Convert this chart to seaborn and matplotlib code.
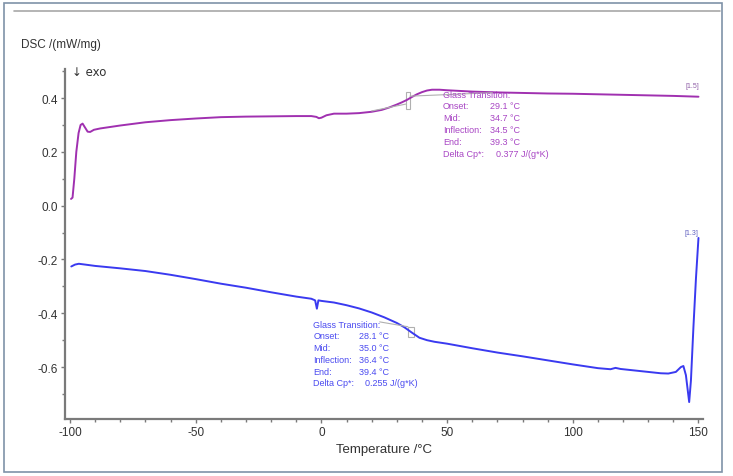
import numpy as np
import pandas as pd
import matplotlib
matplotlib.use("Agg")
import matplotlib.pyplot as plt
import seaborn as sns
from matplotlib.patches import Rectangle

# ---------------- data ----------------
temp_upper = [-99.6, -99.0, -98.3, -97.5, -96.6, -95.8, -95.0, -94.0, -93.0, -92.0,
              -90.5, -88, -80, -70, -60, -50, -40, -30, -20, -10, -4, -2, -1, 0, 2,
              5, 10, 15, 20, 24, 27, 30, 32, 34, 36, 38, 40, 42, 44, 47, 50, 60, 70,
              80, 90, 100, 110, 120, 130, 140, 150]
dsc_upper = [0.025, 0.03, 0.10, 0.20, 0.27, 0.300, 0.305, 0.29, 0.275, 0.274,
             0.282, 0.287, 0.298, 0.310, 0.318, 0.324, 0.329, 0.331, 0.332, 0.333, 0.333,
             0.330, 0.325, 0.327, 0.336, 0.342, 0.342, 0.344, 0.349, 0.356, 0.365, 0.376,
             0.384, 0.393, 0.404, 0.414, 0.422, 0.428, 0.431, 0.431, 0.429, 0.424, 0.421,
             0.419, 0.417, 0.416, 0.414, 0.412, 0.410, 0.408, 0.405]

temp_lower = [-99.5, -98, -96.5, -94, -90, -80, -70, -60, -50, -40, -30, -20, -10,
              -4, -2.5, -1.8, -1.2, 0, 5, 10, 15, 20, 25, 30, 33, 36, 39, 42, 45, 50,
              60, 70, 80, 90, 100, 110, 115, 117, 119, 125, 130, 135, 138, 141, 143,
              144, 145, 146.3, 147, 148, 149, 150]
dsc_lower = [-0.226, -0.219, -0.216, -0.219, -0.224, -0.233, -0.243, -0.257, -0.273,
             -0.290, -0.305, -0.322, -0.338, -0.346, -0.352, -0.383, -0.352, -0.354,
             -0.360, -0.370, -0.382, -0.397, -0.415, -0.436, -0.452, -0.472, -0.491,
             -0.500, -0.506, -0.513, -0.530, -0.546, -0.560, -0.575, -0.590, -0.604,
             -0.608, -0.603, -0.607, -0.613, -0.618, -0.623, -0.624, -0.618, -0.600,
             -0.596, -0.630, -0.730, -0.650, -0.450, -0.270, -0.120]

series_names = ["[1.5]", "[1.3]"]
upper_labels = ["Glass Transition:", "Onset:", "Mid:", "Inflection:", "End:", "Delta Cp*:"]
upper_values = ["", "29.1 °C", "34.7 °C", "34.5 °C", "39.3 °C", "0.377 J/(g*K)"]
lower_labels = ["Glass Transition:", "Onset:", "Mid:", "Inflection:", "End:", "Delta Cp*:"]
lower_values = ["", "28.1 °C", "35.0 °C", "36.4 °C", "39.4 °C", "0.255 J/(g*K)"]
x_ticks = [-100, -50, 0, 50, 100, 150]
y_ticks = [-0.6, -0.4, -0.2, 0.0, 0.2, 0.4]

# ---------------- build table ----------------
df = pd.concat([
    pd.DataFrame({"T": temp_upper, "DSC": dsc_upper, "run": series_names[0]}),
    pd.DataFrame({"T": temp_lower, "DSC": dsc_lower, "run": series_names[1]}),
], ignore_index=True)

sns.set_style("ticks")
plt.rcParams["font.family"] = ["Liberation Sans", "DejaVu Sans"]

PURPLE = "#a030b0"
BLUE = "#3a3af0"
PURPLE_TXT = "#a845c4"
BLUE_TXT = "#4a4af0"
SPINE = "#7a7a7a"

fig = plt.figure(figsize=(7.33, 4.77), dpi=100)
ax = fig.add_axes([65 / 733, 1 - 420 / 477, (703 - 65) / 733, (420 - 70) / 477])

sns.lineplot(data=df, x="T", y="DSC", hue="run", palette=[PURPLE, BLUE],
             sort=False, estimator=None, legend=False, linewidth=1.4, ax=ax)

ax.set_xlim(-102, 151.8)
ax.set_ylim(-0.793, 0.508)
ax.set_xticks(x_ticks)
ax.set_xticklabels([f"{v:d}" for v in x_ticks])
ax.set_yticks(y_ticks)
ax.set_yticklabels([f"{v:.1f}" for v in y_ticks])
ax.set_xticks(np.arange(-100, 151, 10), minor=True)
ax.set_yticks(np.arange(-0.7, 0.51, 0.1), minor=True)
ax.tick_params(axis="both", which="major", direction="out", length=3, width=1,
               color=SPINE, labelsize=8.5, labelcolor="#333333", pad=2)
ax.tick_params(axis="both", which="minor", direction="out", length=2, width=1,
               color=SPINE)
for side in ["top", "right"]:
    ax.spines[side].set_visible(False)
for side in ["left", "bottom"]:
    ax.spines[side].set_color(SPINE)
    ax.spines[side].set_linewidth(1.6)

ax.set_xlabel("Temperature /°C", fontsize=9.5, color="#333333", labelpad=4)
ax.set_ylabel("")

# glass transition construction marks (thin gray)
gray = "#b0b0b0"
ax.add_patch(Rectangle((33.8, 0.358), 1.6, 0.064, fill=False, ec=gray, lw=0.8))
ax.plot([35.2, 68], [0.407, 0.420], color=gray, lw=0.8)
ax.plot([20, 33.8], [0.352, 0.378], color=gray, lw=0.8)
ax.add_patch(Rectangle((34.4, -0.487), 2.4, 0.037, fill=False, ec=gray, lw=0.8))
ax.plot([23.2, 34.4], [-0.432, -0.450], color=gray, lw=0.8)

# analysis text blocks
def text_block(x_lab, x_val, y0, dy, labels, values, color):
    for i, (lab, val) in enumerate(zip(labels, values)):
        y = y0 - i * dy
        ax.text(x_lab, y, lab, fontsize=6.5, color=color, va="center", ha="left")
        if val:
            xv = x_val + (2.5 if lab.startswith("Delta") else 0)
            ax.text(xv, y, val, fontsize=6.5, color=color, va="center", ha="left")

text_block(48.4, 67.0, 0.415, 0.0445, upper_labels, upper_values, PURPLE_TXT)
text_block(-3.2, 15.0, -0.440, 0.0437, lower_labels, lower_values, BLUE_TXT)

# segment labels
ax.text(147.6, 0.445, series_names[0], fontsize=5, color="#9060a8", ha="center", va="center")
ax.text(147.2, -0.100, series_names[1], fontsize=5, color="#6060c0", ha="center", va="center")

# figure texts
fig.text(21 / 733, 1 - 45 / 477, "DSC /(mW/mg)", fontsize=8.5, color="#333333",
         va="center", ha="left")
fig.text(72 / 733, 1 - 72 / 477, "↓ exo", fontsize=8.5, color="#333333",
         va="center", ha="left", family=["DejaVu Sans"])

# frame and top rule
fig.patches.append(Rectangle((4 / 733, 4 / 477), (722 - 4) / 733, (473 - 4) / 477,
                             transform=fig.transFigure, fill=False, ec="#7f92a8", lw=1.2))
fig.lines.append(plt.Line2D([14 / 733, 720 / 733], [1 - 12 / 477, 1 - 12 / 477],
                            transform=fig.transFigure, color="#a8a8a8", lw=1.2))

fig.savefig("out.png", dpi=100)
